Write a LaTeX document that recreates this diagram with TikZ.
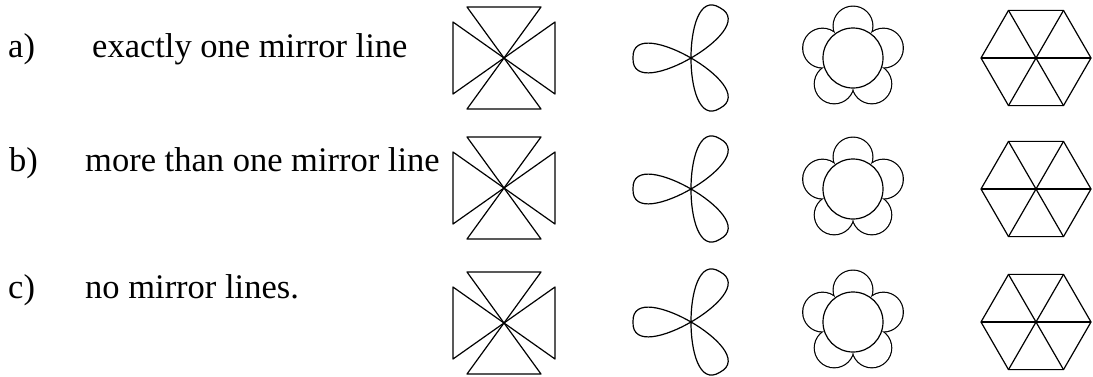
\documentclass[tikz,border=0pt]{standalone}
\usepackage{fontspec}
\setmainfont{Liberation Serif}
\begin{document}
\begin{tikzpicture}[x=1pt,y=-1pt,line join=round,
  lbl/.style={anchor=base west,inner sep=0pt,font=\fontsize{34.5}{40}\selectfont},
  shp/.style={line width=1.2pt}]
\useasboundingbox (0,0) rectangle (1093,376);
% texts
\node[lbl] (la) at (8,57) {a)};
\node[lbl] (ta) at (92,57) {exactly one mirror line};
\node[lbl] (lb) at (9,171) {b)};
\node[lbl] (tb) at (85,171) {more than one mirror line};
\node[lbl] (lc) at (8,298) {c)};
\node[lbl] (tc) at (85,298) {no mirror lines.};
% figures per row
\foreach \cy/\ry in {58/58, 188/189, 323/322}{
  % cross
  \begin{scope}[shift={(504,\cy)}]
    \draw[shp] (0,0) -- (-37,-51) -- (37,-51) -- cycle;
    \draw[shp] (0,0) -- (-37,51) -- (37,51) -- cycle;
    \draw[shp] (0,0) -- (-51,-36) -- (-51,36) -- cycle;
    \draw[shp] (0,0) -- (51,-36) -- (51,36) -- cycle;
  \end{scope}
  % trefoil
  \foreach \a in {60,180,300}{
    \begin{scope}[shift={(691,\ry)},rotate=\a]
      \draw[shp] (0,0) .. controls (24,14) and (59,25) .. (58,0)
                       .. controls (59,-25) and (24,-14) .. (0,0);
    \end{scope}
  }
  % flower
  \begin{scope}[shift={(853,\ry)}]
    \foreach \a in {-90,-18,54,126,198}{
      \draw[line width=2.4pt] (\a:32) circle[radius=19.3];
    }
    \foreach \a in {-90,-18,54,126,198}{
      \fill[white] (\a:32) circle[radius=19.3];
    }
    \filldraw[shp,fill=white] (0,0) circle[radius=30];
  \end{scope}
  % hexagon
  \begin{scope}[shift={(1036,\ry)}]
    \draw[shp] (0:55) -- (60:55) -- (120:55) -- (180:55) -- (240:55) -- (300:55) -- cycle;
    \draw[shp] (0:55) -- (180:55);
    \draw[shp] (60:55) -- (240:55);
    \draw[shp] (120:55) -- (300:55);
  \end{scope}
}
\end{tikzpicture}
\end{document}
